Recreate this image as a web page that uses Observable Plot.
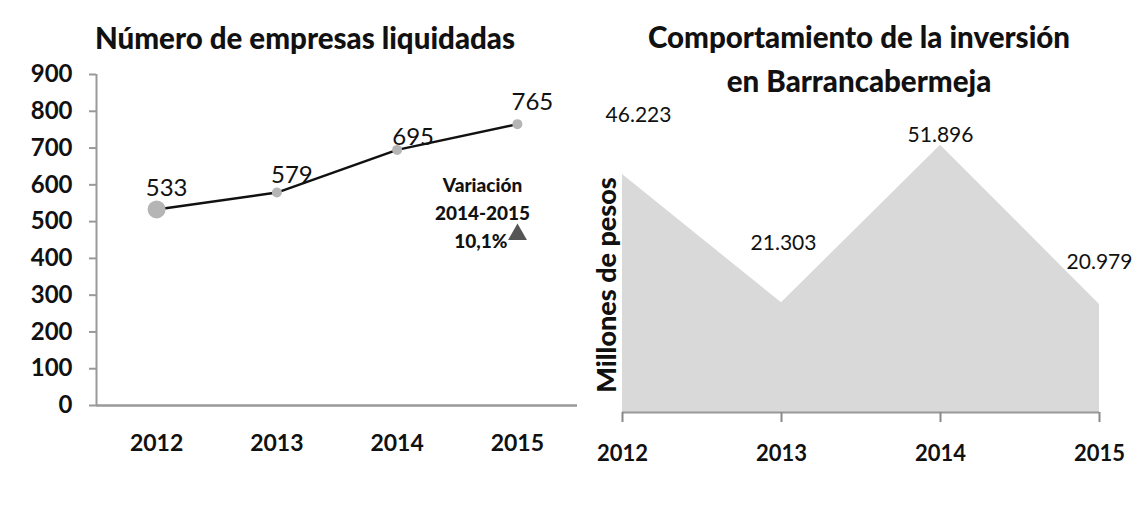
<!DOCTYPE html>
<html>
<head>
<meta charset="utf-8">
<script src="https://cdn.jsdelivr.net/npm/d3@7"></script>
<script src="https://cdn.jsdelivr.net/npm/@observablehq/plot@0.6"></script>
<style>
  html, body { margin: 0; padding: 0; background: #fff; }
  #wrap { position: relative; width: 1136px; height: 505px; overflow: hidden; font-family: Lato, sans-serif; color: #111; }
  .title { position: absolute; text-align: center; font-weight: 900; font-size: 29.5px; line-height: 44px; color: #111; white-space: nowrap; }
  .ylab { position: absolute; left: 605px; top: 285px; transform: translate(-50%, -50%) rotate(-90deg); font-weight: 900; font-size: 27px; white-space: nowrap; color: #111; }
  #wrap svg { position: absolute; top: 0; }
</style>
</head>
<body>
<div id="wrap">
  <div class="title" style="left:0; width:610px; top:16px;">Número de empresas liquidadas</div>
  <div class="title" style="left:570px; width:578px; top:15px;">Comportamiento de la inversión<br>en Barrancabermeja</div>
</div>
<script>
// ---- data ----
const years = [2012, 2013, 2014, 2015];
const yearLabels = ["2012", "2013", "2014", "2015"];
const empresas = [533, 579, 695, 765];
const inversion = [46223, 21303, 51896, 20979];
const empresasTicks = [0, 100, 200, 300, 400, 500, 600, 700, 800, 900];
const variacionLines = ["Variación", "2014-2015"];
const variacionValue = "10,1%";
const yTitleRight = "Millones de pesos";

// ---- label nudges (layout only) ----
const leftNudge = [[10, -21], [15, -17], [16, -13], [15, -22]];
const rightNudge = [[16, -59], [2, -60], [0, -10], [0, -42]];

const es = d3.formatLocale({decimal: ",", thousands: ".", grouping: [3], currency: ["$", ""]});
const fmtEs = es.format(",d");

const left = years.map((y, i) => ({year: y, v: empresas[i], i}));
const right = years.map((y, i) => ({year: y, v: inversion[i], i}));
const yearFmt = d => yearLabels[years.indexOf(d)];

const wrap = document.getElementById("wrap");

// ---- left chart ----
const leftPlot = Plot.plot({
  width: 580, height: 505,
  marginLeft: 96, marginRight: 3, marginTop: 74, marginBottom: 100,
  style: {fontFamily: "Lato, sans-serif", background: "transparent", overflow: "visible", color: "#111"},
  x: {domain: [years[0] - 0.5, years[years.length - 1] + 0.5], label: null, axis: null},
  y: {domain: [0, 900], label: null, axis: null},
  marks: [
    Plot.ruleX([years[0] - 0.5], {stroke: "#999", strokeWidth: 2}),
    Plot.ruleY([0], {stroke: "#999", strokeWidth: 2.5}),
    Plot.axisY(empresasTicks, {tickSize: 7, tickPadding: 17, stroke: "#999", strokeWidth: 2, fill: "#111", fontSize: 24, fontWeight: "bold", label: null}),
    Plot.axisX(years, {tickSize: 0, tickPadding: 29, fill: "#111", fontSize: 23, fontWeight: "bold", tickFormat: yearFmt, label: null}),
    Plot.lineY(left, {x: "year", y: "v", stroke: "#111", strokeWidth: 2.5}),
    Plot.dot(left, {filter: d => d.i === 0, x: "year", y: "v", r: 9, fill: "#b5b5b5"}),
    Plot.dot(left, {filter: d => d.i !== 0, x: "year", y: "v", r: 5, fill: "#b5b5b5"}),
    ...left.map(d => Plot.text([d], {x: "year", y: "v", text: e => String(e.v), dx: leftNudge[d.i][0], dy: leftNudge[d.i][1], fontSize: 24, fill: "#111"})),
    ...variacionLines.map((t, k) => Plot.text([t], {frameAnchor: "top-left", dx: 386, dy: 104 + 28 * k, fontSize: 19, fontWeight: 900, fill: "#111", textAnchor: "middle"})),
    Plot.text([variacionValue], {frameAnchor: "top-left", dx: 411, dy: 160, fontSize: 19, fontWeight: 900, fill: "#111", textAnchor: "end"}),
    Plot.dot([variacionValue], {frameAnchor: "top-left", dx: 421, dy: 160, symbol: "triangle", r: 7, fill: "#555"})
  ]
});
leftPlot.style.left = "0px";
wrap.appendChild(leftPlot);

// ---- right chart ----
const rightPlot = Plot.plot({
  width: 566, height: 505,
  marginLeft: 52, marginRight: 37, marginTop: 103, marginBottom: 93,
  style: {fontFamily: "Lato, sans-serif", background: "transparent", overflow: "visible", color: "#111"},
  x: {domain: [years[0], years[years.length - 1]], label: null, axis: null},
  y: {domain: [0, 60000], label: null, axis: null},
  marks: [
    Plot.areaY(right, {x: "year", y: "v", fill: "#d9d9d9"}),
    Plot.ruleY([0], {stroke: "#999", strokeWidth: 2}),
    Plot.axisX(years, {tickSize: 10, tickPadding: 23, stroke: "#888", strokeWidth: 2, fill: "#111", fontSize: 22, fontWeight: "bold", tickFormat: yearFmt, label: null}),
    ...right.map(d => Plot.text([d], {x: "year", y: "v", text: e => fmtEs(e.v), dx: rightNudge[d.i][0], dy: rightNudge[d.i][1], fontSize: 21, fill: "#111"}))
  ]
});
rightPlot.style.left = "570px";
wrap.appendChild(rightPlot);

const yl = document.createElement("div");
yl.className = "ylab";
yl.textContent = yTitleRight;
wrap.appendChild(yl);
</script>
</body>
</html>
